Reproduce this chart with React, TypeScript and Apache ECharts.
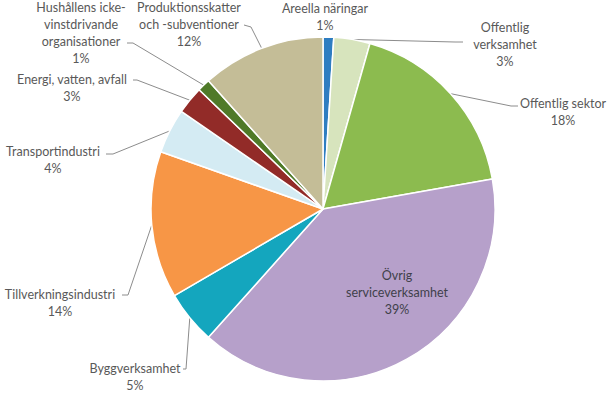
import React, { useEffect, useRef } from "react";
import * as echarts from "echarts";

const categories = [
  "Areella näringar",
  "Offentlig\nverksamhet",
  "Offentlig sektor",
  "Övrig\nserviceverksamhet",
  "Byggverksamhet",
  "Tillverkningsindustri",
  "Transportindustri",
  "Energi, vatten, avfall",
  "Hushållens icke-\nvinstdrivande\norganisationer",
  "Produktionsskatter\noch -subventioner",
];
const values = [1.0, 3.4, 17.8, 39.4, 5.0, 13.8, 4.2, 2.6, 1.2, 11.6];
const colors = [
  "#2e7dc1",
  "#d7e4bd",
  "#8cbb4f",
  "#b6a0ca",
  "#14a6be",
  "#f79646",
  "#d4ebf3",
  "#922b28",
  "#4f7a28",
  "#c4bd97",
];

// layout (not data): label block centre x, top y, and label-line elbow / end points
const CX = 323;
const CY = 209;
const R = 172;
const LH = 17;
const labelPos: { x: number; y: number; line: number[][] | null }[] = [
  { x: 325, y: -0.5, line: null },
  { x: 505, y: 18.5, line: [[455, 42], [463, 42]] },
  { x: 563, y: 94.5, line: [[511, 106], [518, 106]] },
  { x: 397, y: 266.5, line: null },
  { x: 135, y: 360, line: [[186, 369], [183, 369]] },
  { x: 60, y: 285.5, line: [[128, 295], [122, 295]] },
  { x: 53, y: 142.5, line: [[113, 154], [106, 154]] },
  { x: 72, y: 70.5, line: [[137, 80], [133, 80]] },
  { x: 81, y: -1, line: [[133, 43], [127, 43]] },
  { x: 189, y: -1, line: [[251, 27], [244, 25]] },
];

export default function App() {
  const ref = useRef<HTMLDivElement>(null);
  useEffect(() => {
    document.body.style.margin = "0";
    const chart = echarts.init(ref.current!, undefined, { renderer: "svg" });
    const total = values.reduce((a, b) => a + b, 0);
    const midAngle = (i: number) => {
      let c = 0;
      for (let k = 0; k < i; k++) c += values[k];
      return ((c + values[i] / 2) / total) * Math.PI * 2;
    };
    chart.setOption({
      animation: false,
      backgroundColor: "#ffffff",
      series: [
        {
          type: "pie",
          center: [CX, CY],
          radius: R,
          startAngle: 90,
          clockwise: true,
          percentPrecision: 0,
          avoidLabelOverlap: false,
          itemStyle: { borderColor: "#ffffff", borderWidth: 1.5 },
          label: {
            show: true,
            position: "outside",
            formatter: "{b}\n{d}%",
            fontFamily: "Lato, 'Open Sans', sans-serif",
            fontSize: 12.5,
            lineHeight: LH,
            color: "#595959",
            align: "center",
            overflow: "none",
            width: 200,
          },
          labelLine: {
            show: true,
            lineStyle: { color: "#8c8c8c", width: 1 },
          },
          labelLayout: (params: any) => {
            const i = params.dataIndex;
            const p = labelPos[i];
            const a = midAngle(i);
            const ax = CX + R * Math.sin(a);
            const ay = CY - R * Math.cos(a);
            const out: any = {
              x: p.x,
              y: p.y,
              align: "center",
              verticalAlign: "top",
              hideOverlap: false,
            };
            if (p.line) out.labelLinePoints = [[ax, ay], p.line[0], p.line[1]];
            else out.labelLinePoints = [[ax, ay], [ax, ay], [ax, ay]];
            return out;
          },
          data: categories.map((name, i) => ({
            name,
            value: values[i],
            itemStyle: { color: colors[i] },
            ...(i === 3
              ? {
                  label: { position: "inside", color: "#40404a" },
                  labelLine: { show: false },
                }
              : {}),
            ...(i === 0 ? { labelLine: { show: false } } : {}),
          })),
        },
      ],
    });
    return () => chart.dispose();
  }, []);
  return <div ref={ref} style={{ width: 610, height: 393 }} />;
}
